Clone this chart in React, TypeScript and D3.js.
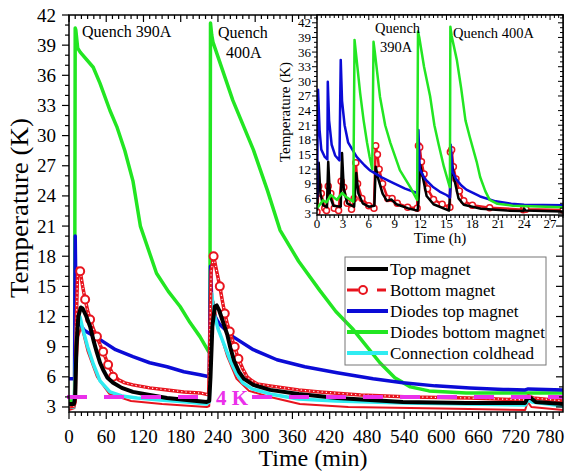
import React from "react";
import * as d3 from "d3";

type P = [number, number];

// ---- main plot, time in minutes ----
const topMagnet: P[] = [
  [0, 3.3], [8, 3.3], [10, 4], [12, 9], [15, 12], [19, 12.9], [22, 12.8], [28, 12], [34, 11],
  [40, 9.5], [45, 8.4], [50, 7.4], [55, 6.7], [62, 5.9], [71, 5.4], [85, 4.9], [103, 4.5],
  [130, 4.2], [158, 3.9], [190, 3.7], [222, 3.5], [226, 3.6], [228, 6], [231, 11], [235, 13],
  [238, 13.1], [242, 12.6], [248, 11.5], [255, 10.2], [260, 8.9], [266, 7.6], [274, 6.5],
  [282, 5.8], [297, 5.2], [324, 4.7], [370, 4.3], [432, 3.9], [538, 3.5], [640, 3.4],
  [735, 3.4], [739, 3.9], [744, 3.9], [752, 3.5], [796, 3.3],
];

const bottomMagnet: P[] = [
  [0, 3.0], [8, 3.1], [10, 3.5], [12, 12], [14, 16.8], [18, 16.5], [22, 15], [26, 13.7],
  [30, 12.6], [34, 11.8], [39, 10.8], [45, 10], [50, 9.2], [55, 8.5], [60, 7.7], [64, 7.1],
  [71, 6.2], [80, 5.7], [90, 5.4], [103, 5.2], [130, 4.9], [158, 4.7], [185, 4.5], [211, 4.4],
  [225, 4.2], [227, 10], [229, 16.5], [233, 18], [238, 16.5], [243, 15], [247, 13.6],
  [251, 12.3], [255, 11.3], [259, 10.5], [263, 9.7], [267, 9], [273, 7.8], [280, 6.8],
  [287, 6], [295, 5.6], [303, 5.3], [324, 5.1], [370, 4.7], [404, 4.5], [470, 4.2],
  [550, 4.0], [646, 3.9], [735, 3.7], [740, 4.1], [748, 3.9], [796, 3.6],
];

const bottomCircles: P[] = [
  [18, 16.5], [26, 13.7], [34, 11.7], [45, 10], [55, 8.5], [63, 7.2], [71, 6.0],
  [233, 18], [243, 15], [251, 12.3], [259, 10.5], [267, 9], [273, 7.8],
];

// second, thinner red trace under the others
const bottomLower: P[] = [
  [0, 2.7], [9, 2.9], [11, 6], [15, 10], [20, 11], [30, 8.5], [45, 6], [65, 4.3], [100, 3.6],
  [150, 3.3], [222, 3.0], [226, 3.1], [229, 12], [233, 13.5], [240, 11], [255, 8], [270, 5.8],
  [290, 4.6], [324, 4.0], [372, 3.3], [450, 3.0], [600, 2.85], [735, 2.7], [739, 3.5],
  [745, 3.0], [796, 2.7],
];

const diodesTop: P[] = [
  [0, 5.8], [9, 5.8], [10, 20], [11, 15], [12, 12.5], [14, 11.6], [18, 11.2], [25, 10.6],
  [50, 9.7], [75, 8.7], [103, 8], [130, 7.4], [158, 7], [185, 6.5], [211, 6.2], [226, 6],
  [228, 17], [230, 13.5], [235, 12], [243, 11.2], [264, 10], [297, 8.7], [335, 7.7],
  [380, 7], [432, 6.4], [490, 5.8], [538, 5.4], [590, 5.1], [646, 4.9], [700, 4.75],
  [735, 4.7], [740, 4.8], [796, 4.7],
];

const diodesBottom: P[] = [
  [0, 3.6], [9, 3.6], [10, 40.7], [11, 40.5], [14, 38.7], [18, 38.3], [39, 36.8], [50, 35.2],
  [66, 32.5], [77, 30.9], [90, 28.5], [103, 25.5], [115, 21], [141, 16.3], [160, 14.5],
  [179, 13], [195, 11.4], [211, 10], [225, 8.5], [227, 8.4], [228, 41.2], [230, 40],
  [232, 39.3], [264, 33.5], [297, 28.6], [320, 24.5], [340, 20.6], [370, 17.5], [404, 14.6],
  [430, 12.5], [458, 10.7], [480, 9], [501, 7.4], [525, 5.9], [550, 5], [580, 4.6],
  [640, 4.4], [796, 4.4],
];

const coldhead: P[] = [
  [0, 3.0], [8, 3.0], [10, 6], [12, 11], [15, 12.2], [18, 11.9], [22, 10.8], [30, 9],
  [39, 7.3], [50, 5.6], [66, 4.5], [85, 4.1], [110, 3.9], [147, 3.7], [190, 3.5], [222, 3.3],
  [226, 3.5], [228, 10], [230, 14.3], [233, 12.5], [240, 10.8], [250, 9.2], [260, 7.6],
  [270, 6.3], [280, 5.4], [295, 4.8], [324, 4.3], [370, 3.8], [430, 3.6], [540, 3.4],
  [640, 3.3], [735, 3.2], [740, 3.7], [746, 3.5], [796, 3.1],
];

const fourK = 4;
const mainXTicks = [0, 60, 120, 180, 240, 300, 360, 420, 480, 540, 600, 660, 720, 780];
const mainYTicks = [3, 6, 9, 12, 15, 18, 21, 24, 27, 30, 33, 36, 39, 42];

// ---- inset, time in hours ----
const insTop: P[] = [
  [0, 3.5], [0.2, 13.3], [0.4, 7], [0.7, 4.6], [1.15, 4.2], [1.3, 13.5], [1.5, 6.5], [1.9, 4.5],
  [2.75, 4.3], [2.9, 15.3], [3.1, 8], [3.5, 5], [4.3, 4.3], [4.55, 11.2], [4.8, 7], [5.3, 5],
  [6, 4.3], [6.65, 4.5], [6.8, 12.5], [7.1, 10], [7.6, 7], [8.1, 5.5], [8.6, 5.8], [9.2, 4.8],
  [10.5, 4], [11.65, 3.5], [11.75, 5], [11.95, 12.9], [12.3, 10], [12.7, 6.5], [13.5, 4.8],
  [15.3, 3.5], [15.45, 8], [15.65, 13.1], [15.9, 10], [16.4, 6], [17, 4.7], [19, 3.9],
  [22, 3.5], [23.9, 3.4], [24, 3.9], [24.15, 3.5], [28.5, 3.3],
];

const insBottom: P[] = [
  [0, 3.2], [0.2, 8.5], [0.5, 7], [0.9, 4], [1.1, 3.5], [1.3, 8.5], [1.6, 7], [2, 4],
  [2.5, 3.5], [2.8, 9.5], [3.1, 8.3], [3.5, 5], [4, 3.8], [4.3, 6], [4.5, 13.3], [4.7, 9],
  [5.2, 6], [6, 4.5], [6.6, 4], [6.8, 16.8], [7, 15], [7.2, 12], [7.6, 9], [8.2, 6], [8.7, 6],
  [9.3, 5], [10.5, 4.2], [11.6, 4], [11.75, 16.8], [11.9, 16.5], [12.1, 13.5], [12.4, 11],
  [12.8, 8], [13.5, 5.8], [14.5, 4.8], [15.4, 4.2], [15.45, 15.5], [15.6, 16], [15.8, 12.5],
  [16.1, 10], [16.5, 7.5], [17, 5.5], [18, 4.6], [20, 4.1], [23.9, 3.7], [24, 4.1],
  [24.2, 3.8], [28.5, 3.6],
];

const insDiodesTop: P[] = [
  [0, 6], [0.12, 28.3], [0.3, 20], [0.5, 16], [0.9, 14.5], [1.2, 14], [1.25, 29.9], [1.4, 22],
  [1.7, 17], [2.1, 14.8], [2.6, 13.8], [2.75, 34.4], [2.9, 26], [3.2, 21], [3.6, 17.5],
  [4.6, 14.5], [5.5, 12.8], [6.1, 11.8], [7.5, 10.3], [8.8, 9.2], [10.2, 8], [11.6, 7.1],
  [11.75, 20], [11.9, 12], [12.5, 10], [13.4, 8.4], [14.2, 7.4], [15, 6.7], [15.4, 6.2],
  [15.5, 17], [15.7, 11.5], [16.1, 10], [16.7, 8.7], [17.3, 7.8], [18.9, 6.4], [20.7, 5.4],
  [22.5, 4.9], [24, 4.7], [28.5, 4.6],
];

const insDiodesBottom: P[] = [
  [0, 4], [0.7, 5.6], [1.1, 5.2], [1.6, 6.7], [2.3, 5.7], [2.9, 7.1], [3.4, 6.3], [4.2, 5.3],
  [4.35, 38.5], [4.5, 36], [5, 27.6], [5.4, 22], [5.8, 17.4], [6.1, 14.5], [6.4, 12],
  [6.55, 38.1], [6.7, 36], [7.3, 26.8], [7.9, 21], [8.5, 17.4], [9.6, 11.8], [10.8, 8.3],
  [11.6, 5.7], [11.7, 40.2], [11.85, 39], [12.4, 33], [13.1, 27], [13.6, 21], [14.1, 17],
  [14.7, 12.5], [15.3, 8.8], [15.4, 8.3], [15.45, 41.2], [15.6, 39.3], [16.2, 34.4],
  [16.7, 28.6], [17.2, 22], [17.7, 18.6], [18.5, 13.5], [18.9, 10.4], [19.5, 7.5],
  [20, 5.7], [20.9, 4.9], [22.7, 4.5], [28.5, 4.2],
];

const insXTicks = [0, 3, 6, 9, 12, 15, 18, 21, 24, 27];
const insYTicks = [3, 6, 9, 12, 15, 18, 21, 24, 27, 30, 33, 36, 39, 42];

const legendItems = [
  "Top magnet",
  "Bottom magnet",
  "Diodes top magnet",
  "Diodes bottom magnet",
  "Connection coldhead",
];

const C = {
  black: "#000000",
  red: "#e8141e",
  blue: "#0b0bd6",
  green: "#22e622",
  cyan: "#30ecf2",
  magenta: "#ea30ea",
};

export default function App() {
  // main plot geometry
  const L = 69, R = 563, T = 15, B = 412;
  const x = d3.scaleLinear().domain([0, 796]).range([L, R]);
  const y = d3.scaleLinear().domain([2.5, 42]).range([B, T]);

  // inset geometry
  const iL = 317, iR = 563, iT = 15, iB = 215;
  const xi = d3.scaleLinear().domain([0, 28.5]).range([iL, iR]);
  const yi = d3.scaleLinear().domain([2.6, 43.6]).range([iB, iT]);

  const lm = d3.line<P>().x((d) => x(d[0])).y((d) => y(d[1]));
  const li = d3.line<P>().x((d) => xi(d[0])).y((d) => yi(d[1]));

  const mainXMinor = d3.range(0, 797, 10);
  const mainYMinor = d3.range(3, 42.01, 1);
  const insXMinor = d3.range(0, 28.51, 0.5);
  const insYMinor = d3.range(3, 43.01, 1);

  const legendColors = [C.black, C.red, C.blue, C.green, C.cyan];
  const legX = 345, legY = 257;

  return (
    <svg
      width={565}
      height={472}
      style={{ position: "absolute", left: 0, top: 0, background: "#fff" }}
    >
      <style>{`text { font-family: "Liberation Serif", "DejaVu Serif", serif; fill: #000; }`}</style>
      <defs>
        <clipPath id="mainClip">
          <rect x={L} y={T} width={R - L} height={B - T} />
        </clipPath>
        <clipPath id="insClip">
          <rect x={iL} y={iT} width={iR - iL} height={iB - iT} />
        </clipPath>
      </defs>
      <rect width={565} height={472} fill="#fff" />

      {/* main curves */}
      <g clipPath="url(#mainClip)" fill="none" strokeLinejoin="round">
        <path d={lm(bottomLower) || ""} stroke={C.red} strokeWidth={2} />
        <path d={lm(diodesBottom) || ""} stroke={C.green} strokeWidth={3.5} />
        <path d={lm(diodesTop) || ""} stroke={C.blue} strokeWidth={3.5} />
        <path d={lm(coldhead) || ""} stroke={C.cyan} strokeWidth={3.5} />
        <path d={lm(bottomMagnet) || ""} stroke={C.red} strokeWidth={3.5} />
        <path d={lm(bottomMagnet) || ""} stroke="#fff" strokeWidth={1.2} strokeDasharray="1.2 3" />
        {bottomCircles.map((d, i) => (
          <circle key={i} cx={x(d[0])} cy={y(d[1])} r={4} fill="#fff" stroke={C.red} strokeWidth={2} />
        ))}
        <path d={lm(topMagnet) || ""} stroke={C.black} strokeWidth={4} />
      </g>

      {/* 4 K line */}
      <line x1={67} x2={R} y1={y(fourK)} y2={y(fourK)} stroke={C.magenta} strokeWidth={4} strokeDasharray="20 17" />
      <rect x={213} y={y(fourK) - 4} width={39} height={8} fill="#fff" />
      <text x={216} y={405} fontSize={21} fontWeight="bold" style={{ fill: C.magenta }}>4 K</text>

      {/* main annotations */}
      <text x={82} y={37} fontSize={16}>Quench 390A</text>
      <text x={218} y={38} fontSize={16}>Quench</text>
      <text x={226} y={58} fontSize={16}>400A</text>

      {/* main axes */}
      <rect x={L} y={T} width={R - L} height={B - T} fill="none" stroke="#000" strokeWidth={1.5} />
      {mainXMinor.map((v) => {
        const major = v % 60 === 0;
        const len = major ? 7 : 4;
        return (
          <g key={"mx" + v} stroke="#000" strokeWidth={1.2}>
            <line x1={x(v)} x2={x(v)} y1={B} y2={B + len} />
            <line x1={x(v)} x2={x(v)} y1={T} y2={T + len} />
          </g>
        );
      })}
      {mainYMinor.map((v) => {
        const major = v % 3 === 0;
        const len = major ? 7 : 4;
        return (
          <g key={"my" + v} stroke="#000" strokeWidth={1.2}>
            <line x1={L} x2={L - len} y1={y(v)} y2={y(v)} />
            <line x1={R} x2={R - len} y1={y(v)} y2={y(v)} />
          </g>
        );
      })}
      {mainXTicks.map((v) => (
        <text key={"mxl" + v} x={Math.min(x(v), 550)} y={443} fontSize={19} textAnchor="middle">{v}</text>
      ))}
      {mainYTicks.map((v) => (
        <text key={"myl" + v} x={56} y={y(v) + 6.5} fontSize={19} textAnchor="end">{v}</text>
      ))}
      <text x={313} y={466} fontSize={24} textAnchor="middle">Time (min)</text>
      <text
        transform="translate(28,208) rotate(-90)"
        fontSize={25}
        textAnchor="middle"
        textLength={180}
        lengthAdjust="spacingAndGlyphs"
      >
        Temperature (K)
      </text>

      {/* legend */}
      <rect x={legX} y={legY} width={201} height={108} fill="none" stroke="#777" strokeWidth={1} />
      {legendItems.map((name, i) => {
        const cy = legY + 12 + i * 21;
        const col = legendColors[i];
        return (
          <g key={name}>
            {i === 1 ? (
              <>
                <line x1={347} x2={358} y1={cy} y2={cy} stroke={col} strokeWidth={3} />
                <circle cx={363} cy={cy} r={4} fill="#fff" stroke={col} strokeWidth={2} />
                <line x1={377} x2={386} y1={cy} y2={cy} stroke={col} strokeWidth={3} />
              </>
            ) : (
              <line x1={347} x2={388} y1={cy} y2={cy} stroke={col} strokeWidth={4} />
            )}
            <text x={390} y={cy + 6} fontSize={17}>{name}</text>
          </g>
        );
      })}

      {/* inset */}
      <rect x={iL} y={iT} width={iR - iL} height={iB - iT} fill="#fff" />
      <g clipPath="url(#insClip)" fill="none" strokeLinejoin="round">
        <path d={li(insBottom) || ""} stroke={C.red} strokeWidth={2.5} />
        {insBottom.map((d, i) => (
          <circle key={i} cx={xi(d[0])} cy={yi(d[1])} r={3} fill="#fff" stroke={C.red} strokeWidth={1.5} />
        ))}
        <path d={li(insTop) || ""} stroke={C.black} strokeWidth={2.5} />
        <path d={li(insDiodesTop) || ""} stroke={C.blue} strokeWidth={2.5} />
        <path d={li(insDiodesBottom) || ""} stroke={C.green} strokeWidth={2.5} />
      </g>
      <rect x={iL} y={iT} width={iR - iL} height={iB - iT} fill="none" stroke="#000" strokeWidth={1.5} />
      {insXMinor.map((v) => {
        const major = v % 3 === 0;
        const len = major ? 5 : 3;
        return (
          <g key={"ix" + v} stroke="#000" strokeWidth={1}>
            <line x1={xi(v)} x2={xi(v)} y1={iB} y2={iB + len} />
            <line x1={xi(v)} x2={xi(v)} y1={iT} y2={iT + len} />
          </g>
        );
      })}
      {insYMinor.map((v) => {
        const major = v % 3 === 0;
        const len = major ? 5 : 3;
        return (
          <g key={"iy" + v} stroke="#000" strokeWidth={1}>
            <line x1={iL} x2={iL - len} y1={yi(v)} y2={yi(v)} />
            <line x1={iR} x2={iR - len} y1={yi(v)} y2={yi(v)} />
          </g>
        );
      })}
      {insXTicks.map((v) => (
        <text key={"ixl" + v} x={xi(v)} y={228} fontSize={13} textAnchor="middle">{v}</text>
      ))}
      {insYTicks.map((v) => (
        <text key={"iyl" + v} x={311} y={yi(v) + 4.5} fontSize={13} textAnchor="end">{v}</text>
      ))}
      <text x={440} y={243} fontSize={15} textAnchor="middle">Time (h)</text>
      <text transform="translate(290,112) rotate(-90)" fontSize={15} textAnchor="middle">Temperature (K)</text>
      <text x={375} y={33} fontSize={14.5}>Quench</text>
      <text x={380} y={52} fontSize={14.5}>390A</text>
      <text x={453} y={38} fontSize={14.5}>Quench 400A</text>
    </svg>
  );
}
